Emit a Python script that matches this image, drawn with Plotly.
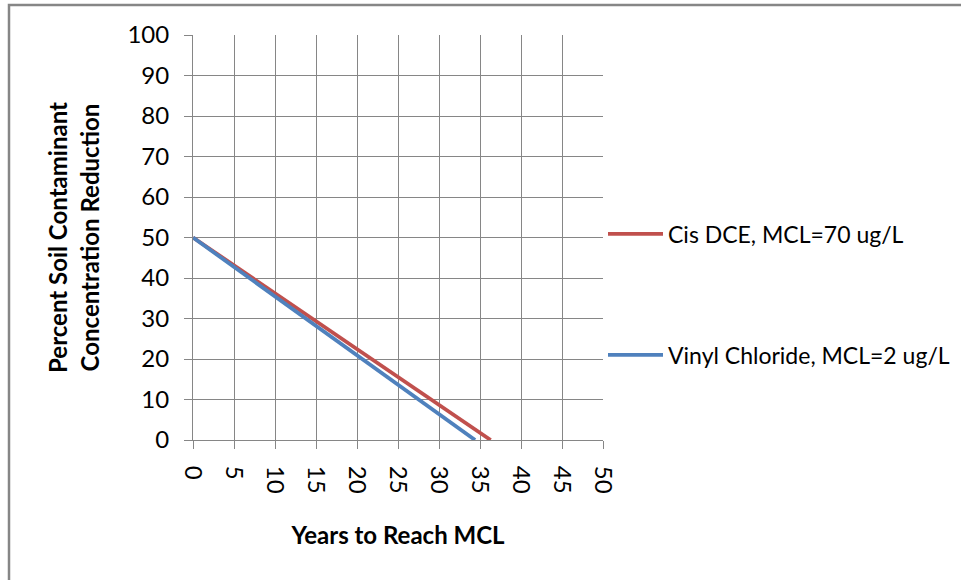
import plotly.graph_objects as go

# data
years_cis = [0, 36.3]
pct_cis = [50, 0]
years_vc = [0, 34.4]
pct_vc = [50, 0]

name_cis = 'Cis DCE, MCL=70 ug/L'
name_vc = 'Vinyl Chloride, MCL=2 ug/L'

x_ticks = list(range(0, 51, 5))
y_ticks = list(range(0, 101, 10))

W, H = 961, 580
L, R, T, B = 193, 603, 35, 440   # plot area in pixels

FONT = 'Lato, Calibri, sans-serif'
GRID = '#868686'


def px_x(p):
    return (p - L) / (R - L)


def px_y(p):
    return (B - p) / (B - T)


fig = go.Figure()

fig.add_trace(go.Scatter(
    x=years_cis, y=pct_cis, mode='lines', name=name_cis,
    line=dict(color='#C0504D', width=3.8),
    showlegend=True, legend='legend'))

fig.add_trace(go.Scatter(
    x=years_vc, y=pct_vc, mode='lines', name=name_vc,
    line=dict(color='#4F81BD', width=3.8),
    showlegend=True, legend='legend2'))

axis_common = dict(
    showgrid=True, gridcolor=GRID, gridwidth=1,
    showline=True, linecolor=GRID, linewidth=1,
    zeroline=False, automargin=False,
    ticks='outside', ticklen=8, tickcolor=GRID, tickwidth=1,
    tickfont=dict(family=FONT, size=24, color='#000000'),
    mirror=False,
)

legend_common = dict(
    xanchor='left', yanchor='middle',
    bgcolor='rgba(0,0,0,0)',
    font=dict(family=FONT, size=23, color='#000000'),
    itemwidth=55,
)

fig.update_layout(
    width=W, height=H,
    margin=dict(l=L, r=W - R, t=T, b=H - B, autoexpand=False),
    paper_bgcolor='white',
    plot_bgcolor='white',
    font=dict(family=FONT, color='#000000'),
    xaxis=dict(
        axis_common,
        range=[0, 50], tickvals=x_ticks, tickangle=90, ticklabelstandoff=12,
        title=dict(text='<b>Years to Reach MCL</b>', font=dict(family=FONT, size=24), standoff=34),
    ),
    yaxis=dict(
        axis_common,
        range=[0, 100], tickvals=y_ticks, ticklabelstandoff=10,
        title=dict(text='<b>Percent Soil Contaminant<br>Concentration Reduction</b>',
                   font=dict(family=FONT, size=24), standoff=21),
    ),
    legend=dict(legend_common, x=px_x(603), y=px_y(234)),
    legend2=dict(legend_common, x=px_x(603), y=px_y(355)),
    shapes=[dict(
        type='rect', xref='paper', yref='paper',
        x0=px_x(9), x1=px_x(970), y0=px_y(590), y1=px_y(5),
        line=dict(color='#868686', width=2.5), fillcolor='rgba(0,0,0,0)',
        layer='below')],
)

# drop the default page margin so the figure sits at the window's corner
fig.write_html('out.html', config={'displayModeBar': False},
               post_script="document.body.style.margin='0';")
